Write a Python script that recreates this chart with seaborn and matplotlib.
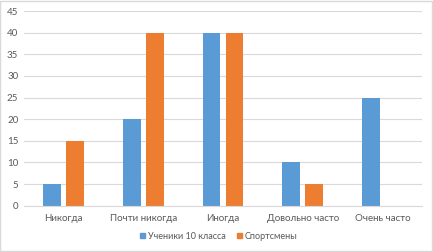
import matplotlib
matplotlib.use("Agg")
import matplotlib.pyplot as plt
import seaborn as sns
import pandas as pd
from matplotlib.patches import Rectangle

categories = ["Никогда", "Почти никогда", "Иногда", "Довольно часто", "Очень часто"]
series_names = ["Ученики 10 класса", "Спортсмены"]
students = [5, 20, 40, 10, 25]
athletes = [15, 40, 40, 5, 0]
y_ticks = [0, 5, 10, 15, 20, 25, 30, 35, 40, 45]

df = pd.DataFrame({
    "cat": categories * 2,
    "group": [series_names[0]] * len(categories) + [series_names[1]] * len(categories),
    "value": students + athletes,
})

sns.set_style("white")
plt.rcParams["font.family"] = ["Lato", "DejaVu Sans"]
text_col = "#595959"
colors = ["#5B9BD5", "#ED7D31"]

fig = plt.figure(figsize=(4.33, 2.52), dpi=100)
ax = fig.add_axes([0.055, 0.184, 0.92, 0.772])

sns.barplot(data=df, x="cat", y="value", hue="group", order=categories,
            hue_order=series_names, palette=colors, width=0.575, gap=0.22,
            saturation=1, linewidth=0, ax=ax, legend=False)

ax.set_ylim(0, 45)
ax.set_yticks(y_ticks)
ax.yaxis.grid(True, color="#D9D9D9", linewidth=0.8)
ax.set_axisbelow(True)
ax.set_xlabel("")
ax.set_ylabel("")
for s in ["top", "right", "left"]:
    ax.spines[s].set_visible(False)
ax.spines["bottom"].set_color("#D9D9D9")
ax.tick_params(axis="both", length=0, labelsize=7, colors=text_col, pad=6)
ax.tick_params(axis="y", pad=4)

handles = [Rectangle((0, 0), 1, 1, color=c) for c in colors]
fig.legend(handles, series_names, loc="center", bbox_to_anchor=(0.505, 0.063),
           ncol=2, frameon=False, fontsize=6.5, labelcolor=text_col,
           handlelength=0.6, handleheight=0.6, handletextpad=0.3, columnspacing=1.2)

fig.patches.append(Rectangle((0.001, 0.002), 0.997, 0.995, transform=fig.transFigure,
                             fill=False, edgecolor="#D9D9D9", linewidth=1))

fig.savefig("out.png", dpi=100)
